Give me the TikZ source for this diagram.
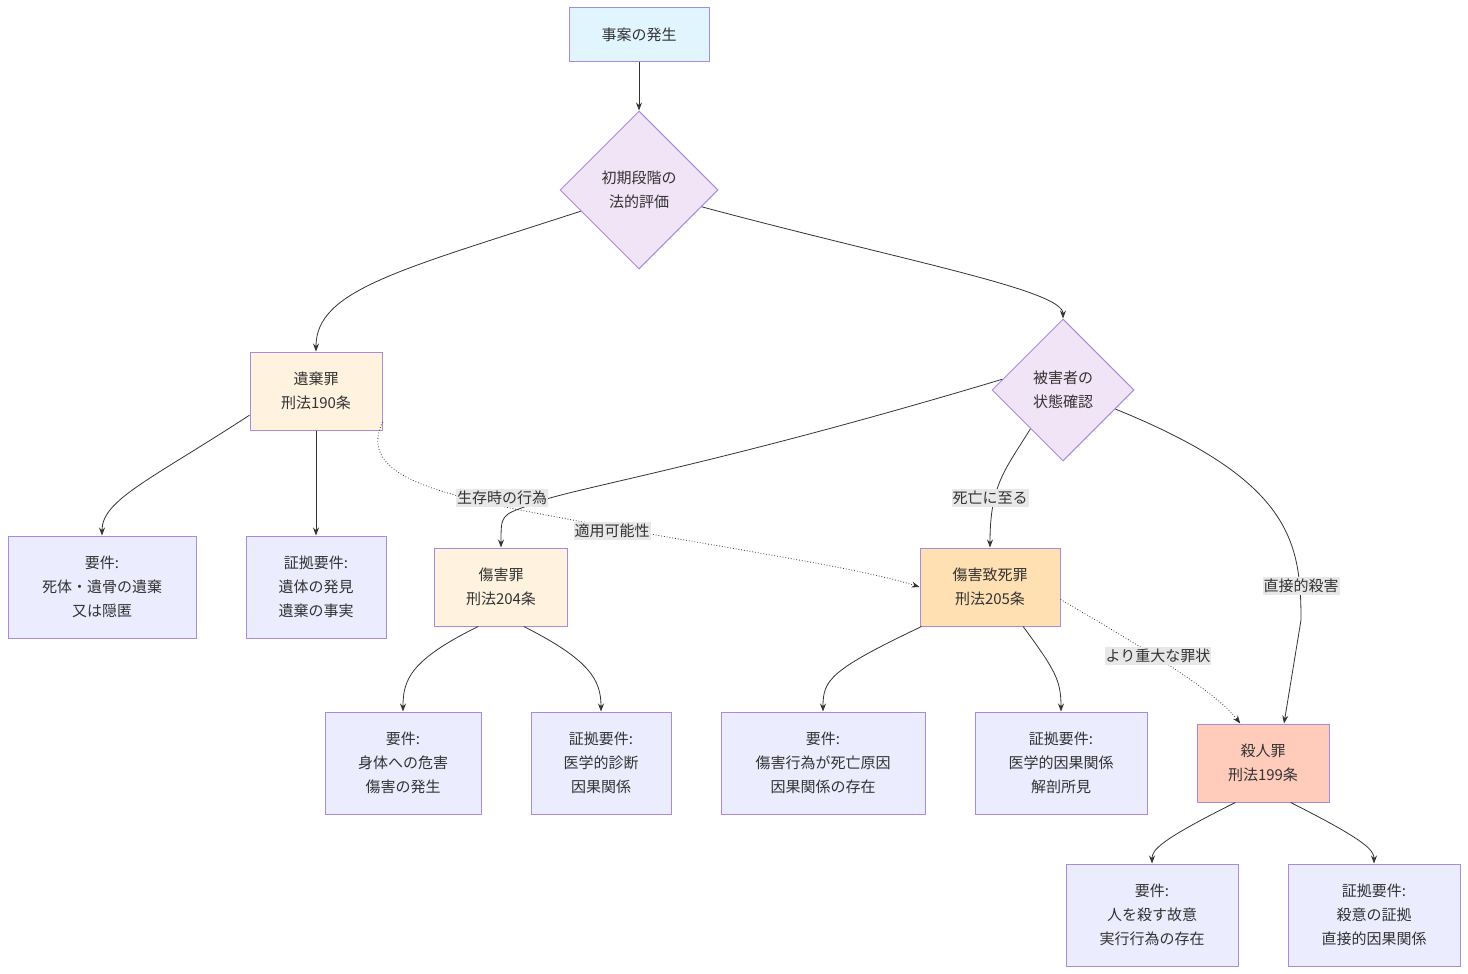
\documentclass[tikz,border=0pt]{standalone}
\usepackage{fontspec}
\setmainfont{Noto Sans CJK JP}
\usetikzlibrary{shapes.geometric,arrows.meta}
\definecolor{edge}{HTML}{333333}
\definecolor{rim}{HTML}{A98BDB}
\definecolor{startfill}{HTML}{E1F5FE}
\definecolor{choice}{HTML}{F1E4F6}
\definecolor{crime}{HTML}{FFF3E0}
\definecolor{grave}{HTML}{FFE0B2}
\definecolor{murder}{HTML}{FFCCBC}
\definecolor{info}{HTML}{ECECFF}
\definecolor{tag}{HTML}{E8E8E8}
\begin{document}
\begin{tikzpicture}[x=1pt,y=-1pt,
  every node/.style={font=\fontsize{15}{24}\selectfont,text=edge,align=center,inner sep=0pt},
  box/.style={draw=rim,line width=1pt,minimum height=#1},
  box/.default=78,
  step/.style={diamond,draw=rim,fill=choice,line width=1pt,minimum size=#1},
  arr/.style={draw=edge,line width=0.8pt,-{Stealth[length=8pt,width=6pt]}},
  hint/.style={arr,dotted},
  tag/.style={fill=tag,inner xsep=1pt,inner ysep=2pt}]
\useasboundingbox (0,0) rectangle (1468,974);
% nodes
\node[box=54,fill=startfill,minimum width=140] (start) at (639,35) {事案の発生};
\node[step=158] (first) at (639,190) {初期段階の\\法的評価};
\node[box,fill=crime,minimum width=132] (iki) at (316,391) {遺棄罪\\刑法190条};
\node[step=142] (state) at (1063,390) {被害者の\\状態確認};
\node[box=102,fill=info,minimum width=188] (ikiReq) at (102,587) {要件:\\死体・遺骨の遺棄\\又は隠匿};
\node[box=102,fill=info,minimum width=140] (ikiEv) at (316,587) {証拠要件:\\遺体の発見\\遺棄の事実};
\node[box,fill=crime,minimum width=133] (hurt) at (501,587) {傷害罪\\刑法204条};
\node[box,fill=grave,minimum width=140] (death) at (990,587) {傷害致死罪\\刑法205条};
\node[box,fill=murder,minimum width=132] (kill) at (1263,763) {殺人罪\\刑法199条};
\node[box=102,fill=info,minimum width=156] (hurtReq) at (403,763) {要件:\\身体への危害\\傷害の発生};
\node[box=102,fill=info,minimum width=140] (hurtEv) at (601,763) {証拠要件:\\医学的診断\\因果関係};
\node[box=102,fill=info,minimum width=204] (deathReq) at (823,763) {要件:\\傷害行為が死亡原因\\因果関係の存在};
\node[box=102,fill=info,minimum width=172] (deathEv) at (1061,763) {証拠要件:\\医学的因果関係\\解剖所見};
\node[box=102,fill=info,minimum width=172] (killReq) at (1152,915) {要件:\\人を殺す故意\\実行行為の存在};
\node[box=102,fill=info,minimum width=172] (killEv) at (1374,915) {証拠要件:\\殺意の証拠\\直接的因果関係};
% connectors
\draw[arr] (start) -- (first);
\draw[arr] (first.200) .. controls (400,270) and (316,290) .. (iki.north);
\draw[arr] (first.-15) .. controls (900,260) and (1063,290) .. (state.north);
\draw[arr] (iki.-160) .. controls (150,480) and (102,500) .. (ikiReq.north);
\draw[arr] (iki) -- (ikiEv);
\draw[arr] (state.170) .. controls (700,470) and (560,490) .. (530,505) .. controls (501,515) .. (hurt.north);
\draw[arr] (state.-130) .. controls (1005,470) and (990,485) .. (hurt.north -| death.north);
\draw[arr] (state.-20) .. controls (1290,480) and (1301,540) .. (1301,620) -- (kill.62);
\draw[hint] (iki.-25) .. controls (360,470) and (420,490) .. (520,510) .. controls (700,545) and (850,565) .. (death.west);
\draw[hint] (death.-10) .. controls (1130,640) and (1215,690) .. (kill.120);
\draw[arr] (hurt.-120) .. controls (410,660) and (403,680) .. (hurtReq.north);
\draw[arr] (hurt.-60) .. controls (590,660) and (601,680) .. (hurtEv.north);
\draw[arr] (death.-150) .. controls (830,670) and (823,680) .. (deathReq.north);
\draw[arr] (death.-50) .. controls (1055,670) and (1061,680) .. (deathEv.north);
\draw[arr] (kill.-125) .. controls (1160,840) and (1152,850) .. (killReq.north);
\draw[arr] (kill.-55) .. controls (1365,840) and (1374,850) .. (killEv.north);
% labels
\node[tag] (alive) at (502,498) {生存時の行為};
\node[tag] (dead) at (990,498) {死亡に至る};
\node[tag] (direct) at (1301,586) {直接的殺害};
\node[tag] (apply) at (612,531) {適用可能性};
\node[tag] (heavier) at (1158,656) {より重大な罪状};
\end{tikzpicture}
\end{document}
